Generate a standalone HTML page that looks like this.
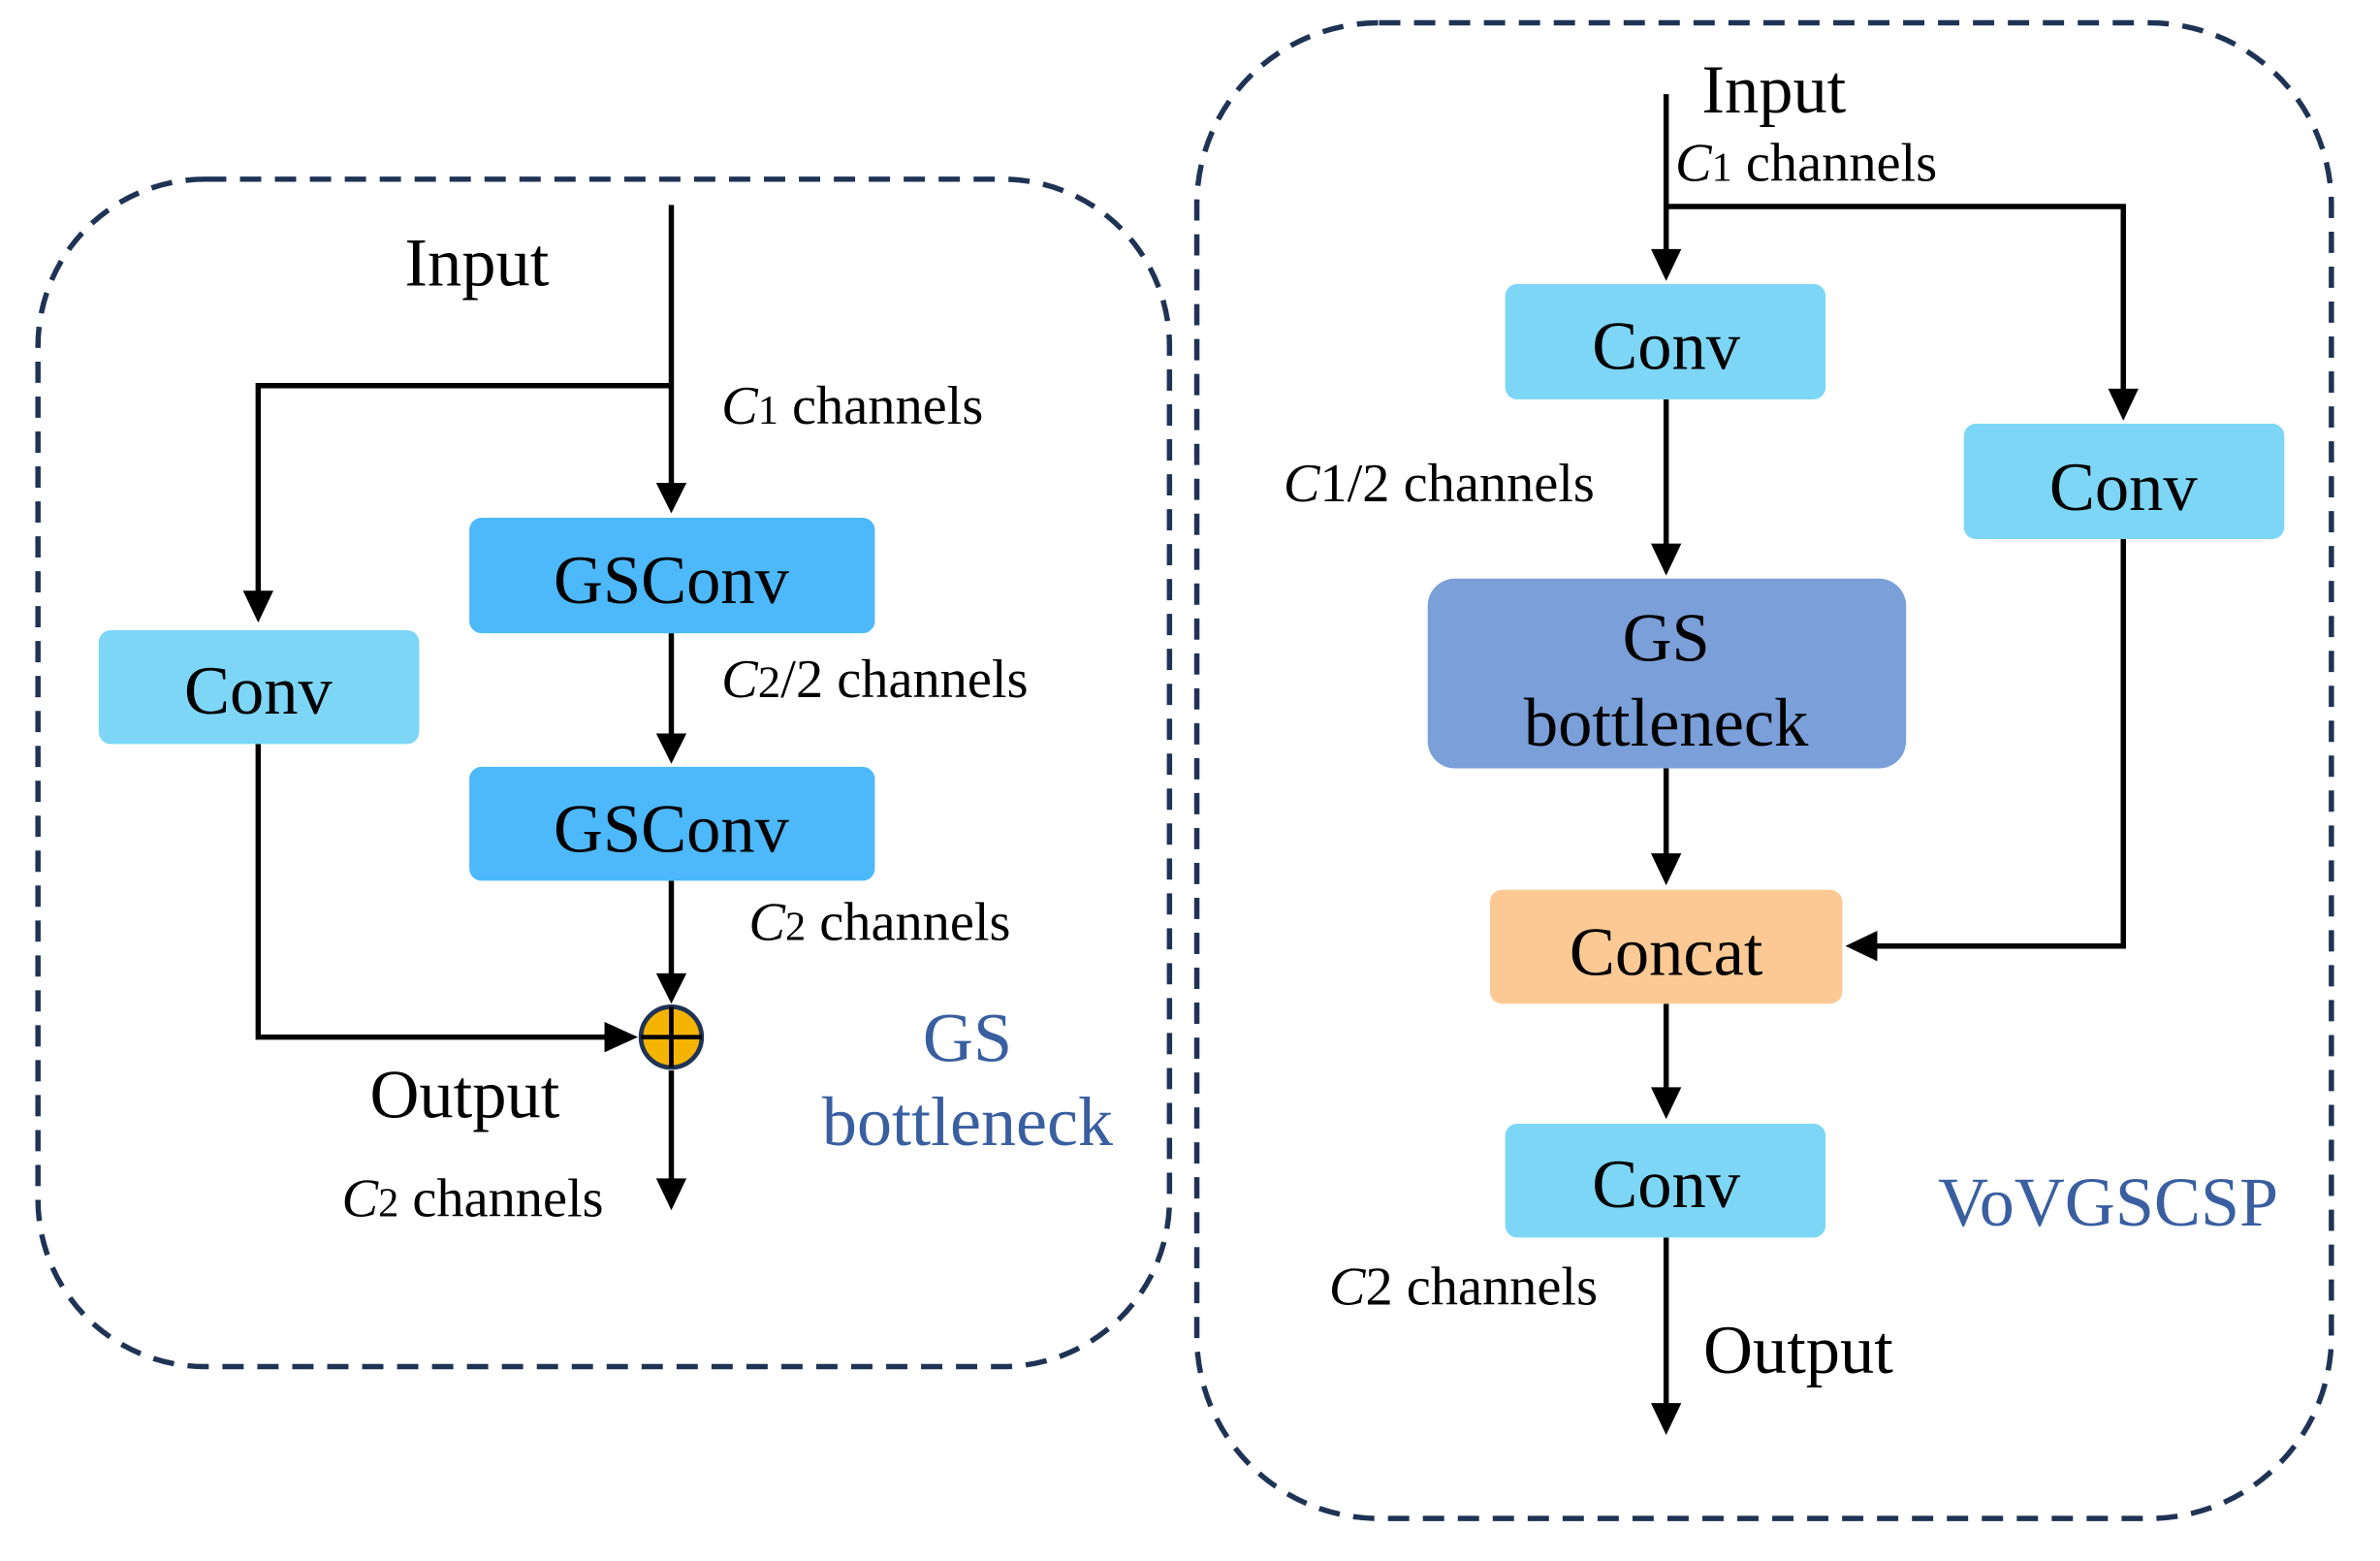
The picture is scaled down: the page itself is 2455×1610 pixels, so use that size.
<!DOCTYPE html>
<html><head><style>html,body{margin:0;padding:0;background:#fff}svg{display:block}</style></head>
<body>
<svg width="2455" height="1610" viewBox="0 0 1567 1028" preserveAspectRatio="none" xmlns="http://www.w3.org/2000/svg" font-family="Liberation Serif, serif">
<g fill="none" stroke="#1f3354" stroke-width="3.5" stroke-dasharray="14,9">
<rect x="25" y="118" width="745" height="782" rx="110"/>
<rect x="788" y="15" width="747" height="985" rx="120"/>
</g>
<g fill="none" stroke="#000" stroke-width="3.5">
<path d="M442,135 V322" />
<path d="M442,254 H170 V393" />
<path d="M442,417 V487" />
<path d="M442,580 V645" />
<path d="M170,490 V683 H402" />
<path d="M442,705 V780" />
<path d="M1097,62 V168" />
<path d="M1097,136 H1398 V260" />
<path d="M1097,263 V362" />
<path d="M1097,506 V566" />
<path d="M1398,355 V623 H1232" />
<path d="M1097,661 V720" />
<path d="M1097,815 V928" />
</g>
<g fill="#000">
<path d="M432,318 L452,318 L442,338 z"/>
<path d="M160,389 L180,389 L170,410 z"/>
<path d="M432,483 L452,483 L442,503 z"/>
<path d="M432,641 L452,641 L442,661 z"/>
<path d="M398,673 L398,693 L420,683 z"/>
<path d="M432,776 L452,776 L442,797 z"/>
<path d="M1087,164 L1107,164 L1097,185 z"/>
<path d="M1388,256 L1408,256 L1398,277 z"/>
<path d="M1087,358 L1107,358 L1097,379 z"/>
<path d="M1087,562 L1107,562 L1097,583 z"/>
<path d="M1236,613 L1236,633 L1215,623 z"/>
<path d="M1087,716 L1107,716 L1097,737 z"/>
<path d="M1087,924 L1107,924 L1097,945 z"/>
</g>
<rect x="65" y="415" width="211" height="75" rx="8" fill="#7dd6f5"/>
<rect x="309" y="341" width="267" height="76" rx="8" fill="#4db8fa"/>
<rect x="309" y="505" width="267" height="75" rx="8" fill="#4db8fa"/>
<circle cx="442" cy="683" r="20" fill="#f5b400" stroke="#1f3354" stroke-width="3"/>
<path d="M422,683 H462 M442,663 V703" stroke="#000" stroke-width="3"/>
<rect x="991" y="187" width="211" height="76" rx="8" fill="#7dd6f5"/>
<rect x="1293" y="279" width="211" height="76" rx="8" fill="#7dd6f5"/>
<rect x="940" y="381" width="315" height="125" rx="18" fill="#7b9fd8"/>
<rect x="981" y="586" width="232" height="75" rx="8" fill="#fcc995"/>
<rect x="991" y="740" width="211" height="75" rx="8" fill="#7dd6f5"/>
<g fill="#000" font-size="45" text-anchor="middle">
<text x="170" y="470">Conv</text>
<text x="442" y="397">GSConv</text>
<text x="442" y="561">GSConv</text>
<text x="1097" y="243">Conv</text>
<text x="1398" y="336">Conv</text>
<text x="1097" y="435">GS</text>
<text x="1097" y="491">bottleneck</text>
<text x="1097" y="642">Concat</text>
<text x="1097" y="795">Conv</text>
<text x="314" y="188">Input</text>
<text x="306" y="736">Output</text>
<text x="1168" y="74">Input</text>
<text x="1184" y="904">Output</text>
</g>
<g fill="#000" font-size="36">
<text x="475" y="279"><tspan font-style="italic">C</tspan><tspan font-size="27">1</tspan> channels</text>
<text x="475" y="459"><tspan font-style="italic">C</tspan><tspan font-size="30">2</tspan>/2 channels</text>
<text x="493" y="619"><tspan font-style="italic">C</tspan><tspan font-size="27">2</tspan> channels</text>
<text x="225" y="801"><tspan font-style="italic">C</tspan><tspan font-size="27">2</tspan> channels</text>
<text x="1103" y="119"><tspan font-style="italic">C</tspan><tspan font-size="27">1</tspan> channels</text>
<text x="845" y="330"><tspan font-style="italic">C</tspan>1/2 channels</text>
<text x="875" y="859"><tspan font-style="italic">C</tspan>2 channels</text>
</g>
<g fill="#3a5fa0" font-size="46" text-anchor="middle">
<text x="637" y="699">GS</text>
<text x="637" y="754">bottleneck</text>
<text x="1388" y="807">VoVGSCSP</text>
</g>
</svg>
</body></html>
